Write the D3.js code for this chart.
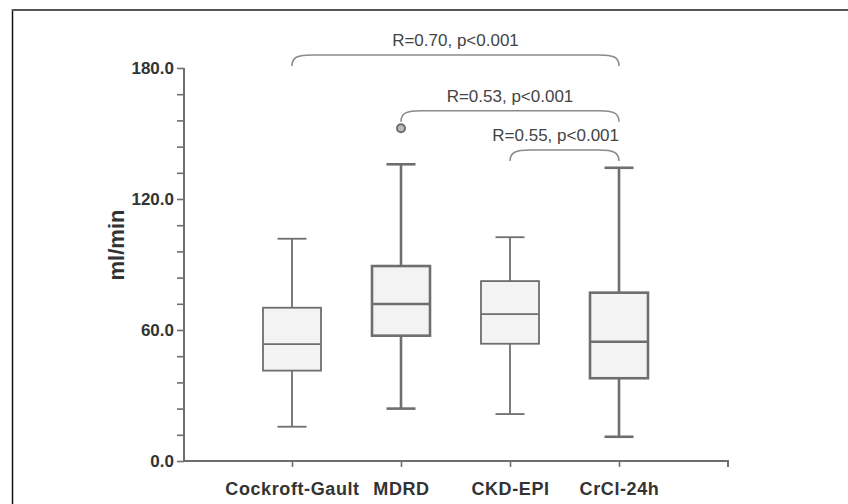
<!DOCTYPE html>
<html>
<head>
<meta charset="utf-8">
<script src="https://cdn.jsdelivr.net/npm/d3@7"></script>
<style>
  body { margin: 0; background: #fff; }
  svg { display: block; font-family: "Liberation Sans", Arial, sans-serif; }
</style>
</head>
<body>
<svg id="chart" width="848" height="504"></svg>
<script>
// data (ml/min)
let methods = ["Cockroft-Gault", "MDRD", "CKD-EPI", "CrCl-24h"];
let whiskerLow = [15.7, 24.0, 21.5, 11.1];
let q1 = [41.4, 57.4, 53.7, 37.9];
let median = [53.5, 71.9, 67.3, 54.6];
let q3 = [70.2, 89.3, 82.4, 77.1];
let whiskerHigh = [101.8, 135.9, 102.5, 134.3];
let outliers = [[], [152.4], [], []];

let bracketFrom = ["Cockroft-Gault", "MDRD", "CKD-EPI"];
let bracketTo = ["CrCl-24h", "CrCl-24h", "CrCl-24h"];
let bracketLevel = [186, 160.4, 142.4];
let bracketText = ["R=0.70, p<0.001", "R=0.53, p<0.001", "R=0.55, p<0.001"];

let yTicks = d3.range(0, 181, 12);
let yLabels = [0, 60, 120, 180];

let svg = d3.select("#chart");
let lineCol = "#6e6e6e";
let textCol = "#333";
let boxWidth = 58;
let capWidth = 29;
let thick = [1.8, 2.6, 1.8, 2.6];

let x = d3.scalePoint().domain(methods).range([292, 619]);
let y = d3.scaleLinear().domain([0, 180]).range([461, 68]);

// frame
svg.append("line").attr("x1", 12.5).attr("x2", 12.5).attr("y1", 9).attr("y2", 504)
    .attr("stroke", "#111").attr("stroke-width", 1.5);
svg.append("line").attr("x1", 12).attr("x2", 848).attr("y1", 10).attr("y2", 10)
    .attr("stroke", "#555").attr("stroke-width", 2);

// y axis
let yAxis = svg.append("g").attr("transform", "translate(184,0)")
    .call(d3.axisLeft(y).tickValues(yTicks).tickSize(7).tickPadding(3)
        .tickFormat(d => yLabels.includes(d) ? d3.format(".1f")(d) : ""));
yAxis.select(".domain").attr("stroke", lineCol).attr("stroke-width", 2).attr("d", "M0," + y(0) + "V" + y(180));
yAxis.selectAll(".tick line").attr("stroke", lineCol).attr("stroke-width", 1.6);
yAxis.selectAll(".tick text").attr("fill", textCol).style("font-size", "17px").style("font-weight", "bold")
    .attr("font-family", null);

// x axis
let xAxis = svg.append("g").attr("transform", "translate(0," + y(0) + ")")
    .call(d3.axisBottom(x).tickSize(6).tickPadding(15));
xAxis.select(".domain").attr("stroke", lineCol).attr("stroke-width", 2).attr("d", "M184,0H728V6");
xAxis.selectAll(".tick line").attr("stroke", lineCol).attr("stroke-width", 1.6);
xAxis.selectAll(".tick text").attr("fill", textCol).style("font-size", "18px").style("font-weight", "bold")
    .style("letter-spacing", "0.6px")
    .attr("font-family", null);

// axis title
svg.append("text")
    .attr("transform", "translate(124,245) rotate(-90)")
    .attr("text-anchor", "middle")
    .attr("fill", textCol)
    .style("font-size", "22px").style("font-weight", "bold")
    .text("ml/min");

// boxes
methods.forEach(function(m, i) {
    let cx = x(m);
    let g = svg.append("g").attr("stroke", lineCol).attr("stroke-width", thick[i]);
    g.append("line").attr("x1", cx).attr("x2", cx).attr("y1", y(whiskerHigh[i])).attr("y2", y(q3[i]));
    g.append("line").attr("x1", cx).attr("x2", cx).attr("y1", y(q1[i])).attr("y2", y(whiskerLow[i]));
    g.append("line").attr("x1", cx - capWidth / 2).attr("x2", cx + capWidth / 2)
        .attr("y1", y(whiskerHigh[i])).attr("y2", y(whiskerHigh[i]));
    g.append("line").attr("x1", cx - capWidth / 2).attr("x2", cx + capWidth / 2)
        .attr("y1", y(whiskerLow[i])).attr("y2", y(whiskerLow[i]));
    g.append("rect").attr("x", cx - boxWidth / 2).attr("width", boxWidth)
        .attr("y", y(q3[i])).attr("height", y(q1[i]) - y(q3[i]))
        .attr("fill", "#f3f3f3");
    g.append("line").attr("x1", cx - boxWidth / 2).attr("x2", cx + boxWidth / 2)
        .attr("y1", y(median[i])).attr("y2", y(median[i]));
    outliers[i].forEach(function(o) {
        g.append("circle").attr("cx", cx).attr("cy", y(o)).attr("r", 4)
            .attr("fill", "#bdbdbd").attr("stroke-width", 2);
    });
});

// significance brackets
let drop = 11;
let rx = 20;
bracketText.forEach(function(t, i) {
    let x1 = x(bracketFrom[i]);
    let x2 = x(bracketTo[i]);
    let yt = y(bracketLevel[i]);
    let p = d3.path();
    p.moveTo(x1, yt + drop);
    p.bezierCurveTo(x1, yt + 2, x1 + 6, yt, x1 + rx, yt);
    p.lineTo(x2 - rx, yt);
    p.bezierCurveTo(x2 - 6, yt, x2, yt + 2, x2, yt + drop);
    svg.append("path").attr("d", p.toString()).attr("fill", "none")
        .attr("stroke", "#8a8a8a").attr("stroke-width", 1.5);
    let last = i === bracketText.length - 1;
    svg.append("text")
        .attr("x", last ? x2 : (x1 + x2) / 2)
        .attr("y", yt - 9)
        .attr("text-anchor", last ? "end" : "middle")
        .attr("fill", "#444")
        .style("font-size", "17px")
        .text(t);
});
</script>
</body>
</html>
